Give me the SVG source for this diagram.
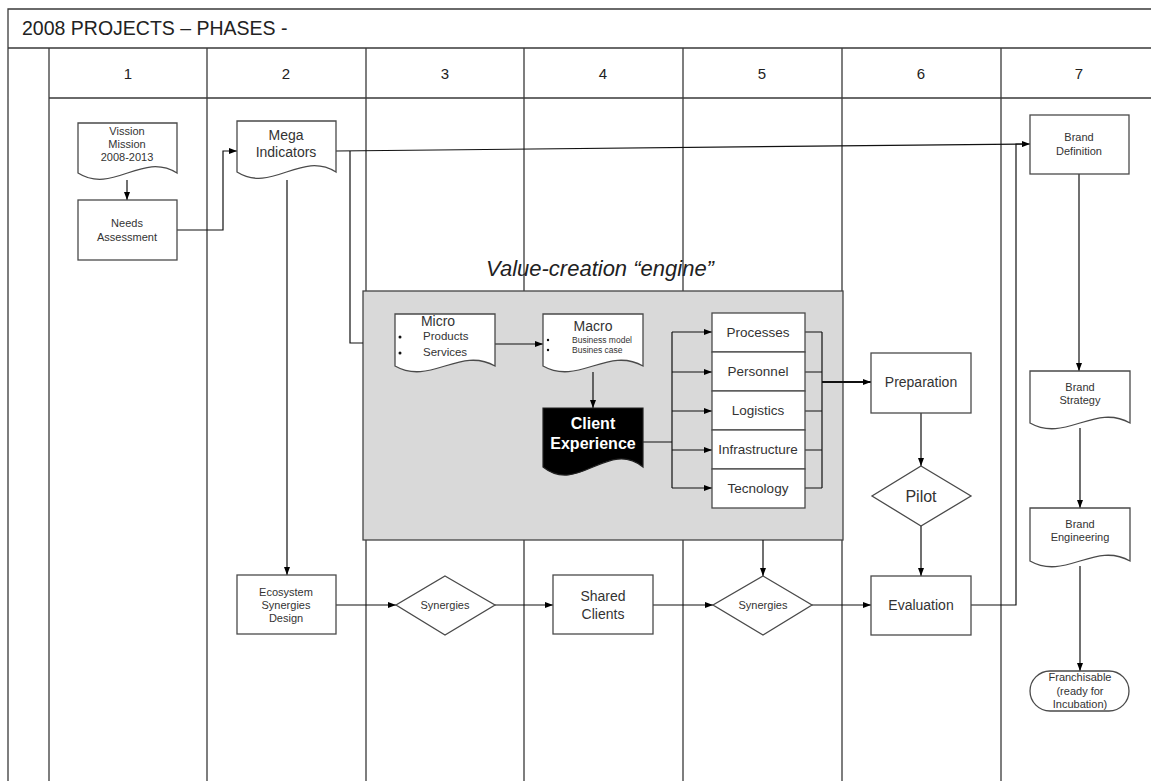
<svg xmlns="http://www.w3.org/2000/svg" width="1151" height="781" viewBox="0 0 1151 781">
<defs>
<marker id="ah" markerWidth="8" markerHeight="6" refX="8" refY="3" orient="auto" markerUnits="userSpaceOnUse"><path d="M0,0 L8,3 L0,6 z" fill="#000"/></marker>
<style>
.frame{stroke:#3a3a3a;stroke-width:1.3;fill:none}
.shape{fill:#fff;stroke:#4a4a4a;stroke-width:1.3}
.con{fill:none;stroke:#111;stroke-width:1.2}
.t{font-family:"Liberation Sans",Arial,sans-serif;fill:#333;text-anchor:middle}
.s11{font-size:11px}
.s14{font-size:14px}
</style>
</defs>
<rect x="0" y="0" width="1151" height="781" fill="#fff"/>
<g id="frame">
<path class="frame" d="M8,781 V9 H1151 M8,48 H1151 M49,98 H1151 M49,48 V781 M207,48 V781 M366,48 V781 M524,48 V781 M683,48 V781 M842,48 V781 M1001,48 V781"/>
<text x="22" y="35" style="font-family:'Liberation Sans',Arial,sans-serif;font-size:19.5px;fill:#222">2008 PROJECTS – PHASES -</text>
<g class="t" style="font-size:15px;fill:#222">
<text x="128" y="79">1</text><text x="286" y="79">2</text><text x="445" y="79">3</text><text x="603" y="79">4</text><text x="762" y="79">5</text><text x="921" y="79">6</text><text x="1079" y="79">7</text>
</g>
</g>
<g id="engine">
<rect x="363" y="291" width="480" height="249" fill="#d9d9d9" stroke="#444" stroke-width="1.3"/>
<text class="t" x="600" y="276" style="font-size:22px;font-style:italic;fill:#222">Value-creation “engine”</text>
</g>
<g id="connectors">
<path class="con" d="M127,180 V200" marker-end="url(#ah)"/>
<path class="con" d="M177,230 H223 V151 H237" marker-end="url(#ah)"/>
<path class="con" d="M336,151 L1030,144" marker-end="url(#ah)"/>
<path class="con" d="M350,151 V343 H363"/>
<path class="con" d="M287,180 V575" marker-end="url(#ah)"/>
<path class="con" d="M495,344 H543" marker-end="url(#ah)"/>
<path class="con" d="M593,372 V408" marker-end="url(#ah)"/>
<path class="con" d="M643,442 H672 M672,332 V488"/>
<path class="con" d="M672,332 H712" marker-end="url(#ah)"/>
<path class="con" d="M672,372 H712" marker-end="url(#ah)"/>
<path class="con" d="M672,411 H712" marker-end="url(#ah)"/>
<path class="con" d="M672,450 H712" marker-end="url(#ah)"/>
<path class="con" d="M672,488 H712" marker-end="url(#ah)"/>
<path class="con" d="M805,332 H822 M805,372 H822 M805,411 H822 M805,450 H822 M805,488 H822 M822,332 V488"/>
<path class="con" d="M822,382 H871" style="stroke-width:2" marker-end="url(#ah)"/>
<path class="con" d="M921,413 V466" marker-end="url(#ah)"/>
<path class="con" d="M921,526 V576" marker-end="url(#ah)"/>
<path class="con" d="M763,540 V576" marker-end="url(#ah)"/>
<path class="con" d="M336,605 H396" marker-end="url(#ah)"/>
<path class="con" d="M495,605 H553" marker-end="url(#ah)"/>
<path class="con" d="M653,605 H713" marker-end="url(#ah)"/>
<path class="con" d="M812,605 H871" marker-end="url(#ah)"/>
<path class="con" d="M971,605 H1016 V144 H1024"/>
<path class="con" d="M1079,174 V371" marker-end="url(#ah)"/>
<path class="con" d="M1080,428 V508" marker-end="url(#ah)"/>
<path class="con" d="M1080,566 V671" marker-end="url(#ah)"/>
</g>
<g id="vission">
<path class="shape" d="M78,123 H177 V173 C142,151 113,195 78,173 Z"/>
<text class="t s11" x="127" y="135">Vission</text><text class="t s11" x="127" y="148">Mission</text><text class="t s11" x="127" y="161">2008-2013</text>
</g>
<g id="needs">
<rect class="shape" x="78" y="200" width="99" height="60"/>
<text class="t s11" x="127" y="227">Needs</text><text class="t s11" x="127" y="241">Assessment</text>
</g>
<g id="mega">
<path class="shape" d="M237,121 H336 V172 C301,150 272,194 237,172 Z"/>
<text class="t s14" x="286" y="140">Mega</text><text class="t s14" x="286" y="157">Indicators</text>
</g>
<g id="micro">
<path class="shape" d="M395,314 H495 V366 C460,346 430,386 395,366 Z"/>
<text class="t s14" x="438" y="326">Micro</text>
<circle cx="400" cy="337" r="1.5" fill="#111"/><circle cx="400" cy="353" r="1.5" fill="#111"/>
<text class="t" x="423" y="340" style="font-size:11.5px;text-anchor:start">Products</text>
<text class="t" x="423" y="356" style="font-size:11.5px;text-anchor:start">Services</text>
</g>
<g id="macro">
<path class="shape" d="M543,314 H643 V366 C608,346 578,386 543,366 Z"/>
<text class="t s14" x="593" y="331">Macro</text>
<circle cx="548" cy="340" r="1.2" fill="#111"/><circle cx="548" cy="350" r="1.2" fill="#111"/>
<text class="t" x="572" y="343" style="font-size:8.5px;text-anchor:start">Business model</text>
<text class="t" x="572" y="353" style="font-size:8.5px;text-anchor:start">Busines case</text>
</g>
<g id="client">
<path d="M543,408 H643 V467 C608,439 578,495 543,467 Z" fill="#000" stroke="#222" stroke-width="1.2"/>
<text class="t" x="593" y="429" style="font-size:16px;font-weight:bold;fill:#fff">Client</text>
<text class="t" x="593" y="449" style="font-size:16px;font-weight:bold;fill:#fff">Experience</text>
</g>
<g id="stack">
<rect class="shape" x="712" y="313" width="93" height="39"/>
<rect class="shape" x="712" y="352" width="93" height="39"/>
<rect class="shape" x="712" y="391" width="93" height="39"/>
<rect class="shape" x="712" y="430" width="93" height="39"/>
<rect class="shape" x="712" y="469" width="93" height="39"/>
<text class="t" x="758" y="337" style="font-size:13.5px">Processes</text>
<text class="t" x="758" y="376" style="font-size:13.5px">Personnel</text>
<text class="t" x="758" y="415" style="font-size:13.5px">Logistics</text>
<text class="t" x="758" y="454" style="font-size:13.5px">Infrastructure</text>
<text class="t" x="758" y="493" style="font-size:13.5px">Tecnology</text>
</g>
<g id="preparation">
<rect class="shape" x="871" y="353" width="100" height="60"/>
<text class="t s14" x="921" y="387">Preparation</text>
</g>
<g id="pilot">
<polygon class="shape" points="921,466 971,496 921,526 872,496"/>
<text class="t" x="921" y="502" style="font-size:16px">Pilot</text>
</g>
<g id="ecosystem">
<rect class="shape" x="237" y="575" width="99" height="59"/>
<text class="t s11" x="286" y="596">Ecosystem</text><text class="t s11" x="286" y="609">Synergies</text><text class="t s11" x="286" y="622">Design</text>
</g>
<g id="synergies1">
<polygon class="shape" points="445,576 495,605 445,635 396,605"/>
<text class="t s11" x="445" y="609">Synergies</text>
</g>
<g id="shared">
<rect class="shape" x="553" y="575" width="100" height="59"/>
<text class="t s14" x="603" y="601">Shared</text><text class="t s14" x="603" y="619">Clients</text>
</g>
<g id="synergies2">
<polygon class="shape" points="763,576 812,605 763,635 713,605"/>
<text class="t s11" x="763" y="609">Synergies</text>
</g>
<g id="evaluation">
<rect class="shape" x="871" y="576" width="100" height="59"/>
<text class="t s14" x="921" y="610">Evaluation</text>
</g>
<g id="brand-definition">
<rect class="shape" x="1030" y="115" width="99" height="59"/>
<text class="t s11" x="1079" y="141">Brand</text><text class="t s11" x="1079" y="155">Definition</text>
</g>
<g id="brand-strategy">
<path class="shape" d="M1030,371 H1130 V423 C1095,403 1065,443 1030,423 Z"/>
<text class="t s11" x="1080" y="391">Brand</text><text class="t s11" x="1080" y="404">Strategy</text>
</g>
<g id="brand-engineering">
<path class="shape" d="M1030,508 H1130 V561 C1095,541 1065,581 1030,561 Z"/>
<text class="t s11" x="1080" y="528">Brand</text><text class="t s11" x="1080" y="541">Engineering</text>
</g>
<g id="franchisable">
<rect class="shape" x="1030" y="671" width="99" height="40" rx="20" ry="20"/>
<text class="t s11" x="1080" y="681">Franchisable</text><text class="t s11" x="1080" y="695">(ready for</text><text class="t s11" x="1080" y="708">Incubation)</text>
</g>
</svg>
